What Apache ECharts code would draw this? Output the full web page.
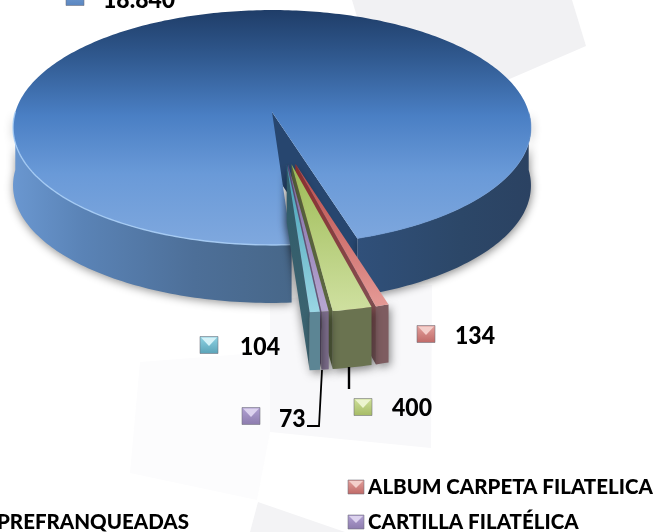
<!DOCTYPE html>
<html><head><meta charset="utf-8">
<style>html,body{margin:0;padding:0;background:#fff}#c{width:656px;height:532px}</style>
<script src="https://cdn.jsdelivr.net/npm/echarts@6/dist/echarts.min.js"></script>
</head><body><div id="c"></div>
<script>
// Data, in pie order (clockwise from the large slice)
const categories = ['(sin rótulo visible)', 'ALBUM CARPETA FILATELICA', '(sin rótulo visible) ', 'CARTILLA FILATÉLICA', 'PREFRANQUEADAS'];
const values = [18840, 134, 400, 73, 104];
const valueLabels = ['18.840', '134', '400', '73', '104'];
const legendNames = ['ALBUM CARPETA FILATELICA', 'CARTILLA FILATÉLICA', 'PREFRANQUEADAS'];

// Projection of the pie plane
const view = {x0: 272, y0: 112, R: 256.7, k: 115.4, p: 0.132, depth: 58};
const START = 3.8;
const FONT = 'Lato, Carlito, "Open Sans", sans-serif';
const total = values.reduce((a, b) => a + b, 0);
const rad = d => d * Math.PI / 180;
function P(u, v, drop) {
  const w = 1 - view.p * v;
  return [view.x0 + view.R * u / w, view.y0 + view.k * v / w + (drop || 0)];
}
// slice angular ranges (decreasing angle)
const ranges = [];
let cur = START;
values.forEach(val => { const s = val / total * 360; ranges.push([cur - s, cur]); cur -= s; });

const looks = [
  null,
  {top: ['#b94a48', '#e59a96'], wall: ['#8c2f2e', '#7e5c60'], front: '#7e5c60', mk: ['#e3a09c', '#c06a68', '#f4cfcb']},
  {top: ['#9dbb55', '#cfe0a0'], wall: ['#55613a', '#5f6a45'], front: '#6a7350', mk: ['#cfe09a', '#a6bb66', '#ecf4cf']},
  {top: ['#7f68a5', '#b8a8d2'], wall: ['#5b4a78', '#6b5c7c'], front: '#7b6c8a', mk: ['#b0a0d2', '#8d7cae', '#dcd2ee']},
  {top: ['#3f9db2', '#9ad6e4'], wall: ['#2f5a68', '#3f6673'], front: '#5c8594', mk: ['#8fd3e4', '#5ba3b8', '#d5f2f8']}
];
const labelPos = [
  {mx: 75, my: -3, tx: 103, ty: 0},
  {mx: 426, my: 334, tx: 455, ty: 336},
  {mx: 363, my: 407, tx: 392, ty: 408},
  {mx: 251, my: 416, tx: 279, ty: 419},
  {mx: 209, my: 345, tx: 240, ty: 347}
];
const blueMark = ['#7ba4d8', '#5a86c0', '#a9c6ea'];

function vGrad(y1, y2, stops) {
  return {type: 'linear', x: 0, y: y1, x2: 0, y2: y2, global: true,
    colorStops: stops.map(s => ({offset: s[0], color: s[1]}))};
}
function hGrad(x1, x2, stops) {
  return {type: 'linear', x: x1, y: 0, x2: x2, y2: 0, global: true,
    colorStops: stops.map(s => ({offset: s[0], color: s[1]}))};
}
function poly(points, fill, extra) {
  return {type: 'polygon', silent: true, shape: {points}, style: Object.assign({fill}, extra || {})};
}
function marker(cx, cy, c, w, h) {
  return [
    {type: 'rect', silent: true, shape: {x: cx - w, y: cy - h, width: 2 * w, height: 2 * h},
      style: {fill: vGrad(cy - h, cy + h, [[0, c[0]], [1, c[1]]]), stroke: 'rgba(110,110,120,.55)', lineWidth: 1}},
    poly([[cx - w + 1, cy - h + 1], [cx + w - 1, cy - h + 1], [cx, cy + 1]], c[2])
  ];
}
function txt(text, x, y, size, sy) {
  return {type: 'text', silent: true, x, y, scaleY: sy || 1,
    style: {text, fill: '#000', fontFamily: FONT, fontWeight: 900, fontSize: size, align: 'left', verticalAlign: 'middle'}};
}
function arc(a, b, ou, ov, r, drop) {
  const pts = [], n = Math.max(2, Math.ceil(Math.abs(b - a)));
  for (let i = 0; i <= n; i++) {
    const t = rad(a + (b - a) * i / n);
    pts.push(P(ou + r * Math.sin(t), ov + r * Math.cos(t), drop));
  }
  return pts;
}
function bigSlice(range) {
  const [a0, b0] = range; // goes from a0 (right edge of notch) round the back to b0
  const d = view.depth, kids = [];
  const low = a0 < 0 ? a0 + 360 : a0; // e.g. ~16.9
  const high = b0 + 360;              // e.g. ~363.8
  const apex = P(0, 0), apexD = P(0, 0, d);
  const rimR = P(Math.sin(rad(low)), Math.cos(rad(low)));
  const rimRD = [rimR[0], rimR[1] + d];
  // radial wall visible in the notch
  kids.push(poly([apex, rimR, rimRD, apexD], '#27466f'));
  // outer wall, right of the notch
  const rTop = arc(low, 90, 0, 0, 1, 0), rBot = arc(90, low, 0, 0, 1, d);
  kids.push(poly(rTop.concat(rBot), hGrad(rimR[0], 530, [[0, '#30507a'], [0.6, '#2c4768'], [1, '#2b4262']]),
    {shadowBlur: 9, shadowColor: 'rgba(0,0,0,.45)', shadowOffsetX: 1, shadowOffsetY: 2}));
  // outer wall, left of the notch
  const lTop = arc(270, high, 0, 0, 1, 0), lBot = arc(high, 270, 0, 0, 1, d);
  kids.push(poly(lTop.concat(lBot), hGrad(13, 292, [[0, '#6a97d0'], [0.25, '#5a83b6'], [0.65, '#4d6f98'], [1, '#476789']]),
    {shadowBlur: 9, shadowColor: 'rgba(0,0,0,.4)', shadowOffsetY: 2}));
  // top face
  const face = [apex].concat(arc(low, high, 0, 0, 1, 0));
  kids.push(poly(face, vGrad(10, 245, [[0, '#1f3d68'], [0.2, '#30598f'], [0.45, '#4a7fc4'], [0.7, '#6a9ad8'], [1, '#7fa8de']])));
  // soft rim highlight
  kids.push({type: 'polyline', silent: true, shape: {points: arc(270, high, 0, 0, 1, 0)},
    style: {fill: 'none', stroke: 'rgba(170,208,248,.85)', lineWidth: 1.4}});
  kids.push({type: 'polyline', silent: true, shape: {points: arc(low, 90, 0, 0, 1, 0)},
    style: {fill: 'none', stroke: 'rgba(110,155,215,.6)', lineWidth: 1}});
  return kids;
}
function smallSlice(range, look) {
  const [a, b] = range, mid = rad((a + b) / 2), d = view.depth, r = 0.985;
  const ou = 0.040 + 0.17 * Math.sin(mid), ov = 0.27 + 0.16 * Math.cos(mid);
  const apex = P(ou, ov), apexD = P(ou, ov, d);
  const left = P(ou + r * Math.sin(rad(a)), ov + r * Math.cos(rad(a)));
  const leftD = [left[0], left[1] + d];
  const topArc = arc(a, b, ou, ov, r, 0), botArc = arc(b, a, ou, ov, r, d);
  return [
    poly([apex, left, leftD, apexD], vGrad(apex[1], leftD[1], [[0, look.wall[0]], [1, look.wall[1]]]),
      {shadowBlur: 8, shadowColor: 'rgba(0,0,0,.4)', shadowOffsetX: -1, shadowOffsetY: 2}),
    poly(topArc.concat(botArc), look.front, {shadowBlur: 8, shadowColor: 'rgba(0,0,0,.45)', shadowOffsetX: 2, shadowOffsetY: 3}),
    poly([apex].concat(topArc), vGrad(apex[1], left[1], [[0, look.top[0]], [1, look.top[1]]]))
  ];
}
function renderSlice(params) {
  const i = params.dataIndex, L = labelPos[i];
  const kids = i === 0 ? bigSlice(ranges[0]) : smallSlice(ranges[i], looks[i]);
  const c = i === 0 ? blueMark : looks[i].mk;
  return {type: 'group', children: kids.concat(marker(L.mx, L.my, c, 9, 8.5), [txt(valueLabels[i], L.tx, L.ty, 23, 1.1)])};
}
// Legend rows visible in the crop, plus leader lines
const legendPos = [{mx: 356, tx: 368, y: 487, c: looks[1].mk}, {mx: 356, tx: 368, y: 522, c: looks[3].mk}, {mx: null, tx: -3, y: 522}];
function renderLegend(params) {
  const i = params.dataIndex, L = legendPos[i];
  const kids = L.mx === null ? [] : marker(L.mx, L.y, L.c, 8, 7);
  kids.push(txt(legendNames[i], L.tx, L.y, 20.5, 1.02));
  return {type: 'group', children: kids};
}
function line(points, w) {
  return {type: 'polyline', silent: true, shape: {points}, style: {fill: 'none', stroke: '#000', lineWidth: w}};
}
const option = {
  animation: false,
  backgroundColor: '#fff',
  graphic: [
    {type: 'polygon', z: 0, silent: true, shape: {points: [[352, 0], [572, 0], [586, 46], [498, 84], [370, 60]]}, style: {fill: '#f1f1f3'}},
    {type: 'polygon', z: 0, silent: true, shape: {points: [[270, 300], [432, 285], [431, 448], [270, 432]]}, style: {fill: '#f8f8fa'}},
    {type: 'polygon', z: 0, silent: true, shape: {points: [[140, 362], [270, 352], [270, 432], [257, 500], [130, 473]]}, style: {fill: '#fcfcfd'}},
    {type: 'polygon', z: 0, silent: true, shape: {points: [[258, 502], [345, 532], [250, 532]]}, style: {fill: '#f3f3f5'}}
  ],
  series: [
    {type: 'custom', name: 'slices', coordinateSystem: 'none', animation: false, clip: false,
      data: values.map((v, i) => ({name: categories[i], value: v})), renderItem: renderSlice},
    {type: 'custom', name: 'legend', coordinateSystem: 'none', animation: false, clip: false,
      data: legendNames, renderItem: renderLegend},
    {type: 'custom', name: 'leaders', coordinateSystem: 'none', animation: false, clip: false,
      data: [0, 1], renderItem: p => p.dataIndex === 0
        ? line([[322, 370], [319, 426], [307, 426]], 1.8)
        : line([[349, 367], [349, 389]], 2.4)}
  ]
};
echarts.init(document.getElementById('c'), null, {renderer: 'canvas'}).setOption(option);
</script></body></html>
